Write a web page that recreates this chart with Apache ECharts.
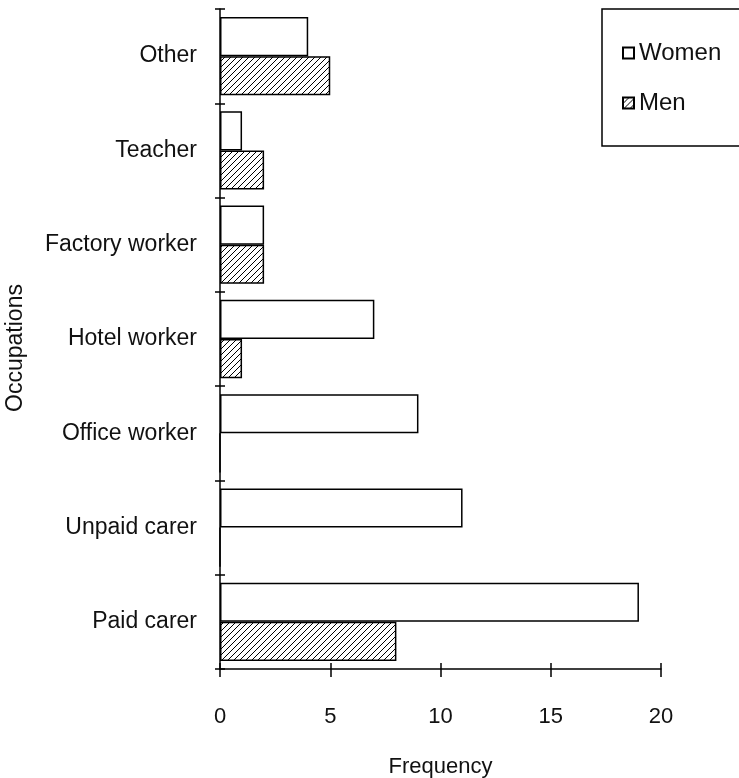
<!DOCTYPE html>
<html>
<head>
<meta charset="utf-8">
<script src="https://cdn.jsdelivr.net/npm/echarts@6/dist/echarts.min.js"></script>
<style>
html,body{margin:0;padding:0;background:#fff;}
#chart{width:739px;height:778px;}
</style>
</head>
<body>
<div id="chart"></div>
<script>
// Data (top to bottom)
const categories = ['Other', 'Teacher', 'Factory worker', 'Hotel worker', 'Office worker', 'Unpaid carer', 'Paid carer'];
const women = [4, 1, 2, 7, 9, 11, 19];
const men = [5, 2, 2, 1, 0, 0, 8];
const xTicks = [0, 5, 10, 15, 20];

const FONT = '"Liberation Sans", Arial, Helvetica, sans-serif';

// hatch pattern
function makeHatch() {
  const s = 6;
  const c = document.createElement('canvas');
  c.width = s; c.height = s;
  const g = c.getContext('2d');
  g.fillStyle = '#fff';
  g.fillRect(0, 0, s, s);
  g.strokeStyle = '#000';
  g.lineWidth = 1;
  g.beginPath();
  g.moveTo(-1, s + 1); g.lineTo(s + 1, -1);
  g.moveTo(-1, 1); g.lineTo(1, -1);
  g.moveTo(s - 1, s + 1); g.lineTo(s + 1, s - 1);
  g.stroke();
  return c;
}
const hatch = { image: makeHatch(), repeat: 'repeat' };

const chart = echarts.init(document.getElementById('chart'), null, { renderer: 'canvas' });
const axisLineStyle = { color: '#000', width: 1.5 };
chart.setOption({
  animation: false,
  backgroundColor: '#fff',
  textStyle: { fontFamily: FONT, color: '#111' },
  grid: { left: 220, right: 78, top: 9, bottom: 109, containLabel: false, outerBoundsMode: 'none' },
  legend: {
    orient: 'vertical',
    left: 602, top: 9,
    padding: [32, 40, 31, 20],
    borderColor: '#000', borderWidth: 1.5,
    itemWidth: 11, itemHeight: 11, itemGap: 26, itemTextGap: 14,
    icon: 'rect',
    textStyle: { fontFamily: FONT, fontSize: 24, color: '#111' },
    data: ['Women', 'Men']
  },
  xAxis: [{
    type: 'value', min: xTicks[0], max: xTicks[xTicks.length - 1], interval: 5,
    position: 'bottom',
    name: 'Frequency', nameLocation: 'middle', nameGap: 87,
    nameTextStyle: { fontFamily: FONT, fontSize: 22, color: '#111' },
    axisLine: { show: true, lineStyle: axisLineStyle },
    axisTick: { show: true, length: 8, lineStyle: axisLineStyle },
    axisLabel: { fontFamily: FONT, fontSize: 22, color: '#111', margin: 37 },
    splitLine: { show: false }
  }, {
    type: 'value', min: xTicks[0], max: xTicks[xTicks.length - 1], interval: 5,
    position: 'bottom',
    axisLine: { show: false },
    axisTick: { show: true, inside: true, length: 6, lineStyle: axisLineStyle },
    axisLabel: { show: false },
    splitLine: { show: false }
  }],
  yAxis: [{
    type: 'category', data: categories, inverse: true,
    position: 'left',
    name: 'Occupations', nameLocation: 'middle', nameGap: 193,
    nameTextStyle: { fontFamily: FONT, fontSize: 23, color: '#111', padding: [0, 18, 0, 0] },
    axisLine: { show: true, lineStyle: axisLineStyle },
    axisTick: { show: true, length: 5, lineStyle: axisLineStyle },
    axisLabel: { fontFamily: FONT, fontSize: 23, color: '#111', margin: 23 }
  }, {
    type: 'category', data: categories, inverse: true,
    position: 'left',
    axisLine: { show: false },
    axisTick: { show: true, inside: true, length: 5, lineStyle: axisLineStyle },
    axisLabel: { show: false }
  }],
  series: [{
    name: 'Women', type: 'bar', data: women,
    xAxisIndex: 0, yAxisIndex: 0,
    barGap: '0%', barCategoryGap: '17%',
    itemStyle: { color: '#fff', borderColor: '#000', borderWidth: 1.5 }
  }, {
    name: 'Men', type: 'bar', data: men,
    xAxisIndex: 0, yAxisIndex: 0,
    barGap: '0%', barCategoryGap: '17%',
    itemStyle: { color: hatch, borderColor: '#000', borderWidth: 1.5 }
  }]
});
</script>
</body>
</html>
